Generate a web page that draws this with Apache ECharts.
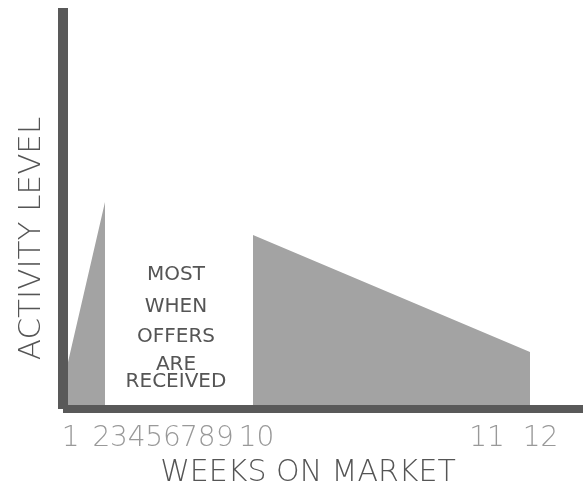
<!DOCTYPE html>
<html>
<head>
<meta charset="utf-8">
<script src="https://cdn.jsdelivr.net/npm/echarts@6/dist/echarts.min.js"></script>
<style>html,body{margin:0;padding:0;background:#fff}#c{width:588px;height:487px}</style>
</head>
<body>
<div id="c"></div>
<script>
// x positions in chart units (time axis), y in activity level (0-100)
var tickLabels = ['1','2','3','4','5','6','7','8','9','10','11','12'];
var tickPositions = [0.19,0.96,1.40,1.84,2.28,2.72,3.15,3.59,4.05,4.84,10.6,11.94];
var activityLeft = [[0, 6.3], [1.05, 51.6]];
var activityRight = [[4.75, 43.4], [11.675, 14.2]];
var offersBox = [1.05, 4.75];
var boxText = ['MOST', 'WHEN', 'OFFERS', 'ARE', 'RECEIVED'];

var data = activityLeft.concat([[2.9, '-']], activityRight);
var font = 'DejaVu Sans';
var lineHeights = [30, 34, 26, 30, 4];
var rich = {};
lineHeights.forEach(function (lh, i) {
  rich['l' + i] = {color: '#555', fontSize: 20, fontFamily: font, lineHeight: lh, align: 'center'};
});
var chart = echarts.init(document.getElementById('c'));
chart.setOption({
  animation: false,
  grid: {left: 63, right: 5, top: 8, bottom: 78, containLabel: false, outerBoundsMode: 'none'},
  xAxis: {
    type: 'value', min: 0, max: 13, z: 5,
    name: 'WEEKS ON MARKET', nameLocation: 'middle', nameGap: 47,
    nameTextStyle: {color: '#555', fontSize: 30, fontFamily: font, fontWeight: 300, padding: [0, 30, 0, 0]},
    axisLine: {show: true, lineStyle: {color: '#595959', width: 8, cap: 'butt'}},
    axisTick: {show: false},
    splitLine: {show: false},
    axisLabel: {
      customValues: tickPositions,
      color: '#999', fontSize: 28, fontFamily: font, fontWeight: 300, margin: 16,
      formatter: function (v) {
        for (var i = 0; i < tickPositions.length; i++) if (Math.abs(tickPositions[i] - v) < 1e-6) return tickLabels[i];
        return '';
      }
    }
  },
  yAxis: {
    type: 'value', min: 0, max: 100, z: 5,
    name: 'ACTIVITY LEVEL', nameLocation: 'middle', nameGap: 16,
    nameTextStyle: {color: '#555', fontSize: 31, fontFamily: font, fontWeight: 300, padding: [0, 60, 0, 0]},
    axisLine: {show: true, lineStyle: {color: '#595959', width: 10, cap: 'butt'}},
    axisTick: {show: false}, axisLabel: {show: false}, splitLine: {show: false}
  },
  series: [{
    type: 'line', data: data, symbol: 'none', connectNulls: false, z: 2,
    lineStyle: {width: 0}, areaStyle: {color: '#a3a3a3', opacity: 1},
    markArea: {
      silent: true,
      itemStyle: {color: 'rgba(255,255,255,0)'},
      label: {
        show: true, position: 'insideBottom', distance: 25, offset: [-3, 0],
        formatter: boxText.map(function (t, i) { return '{l' + i + '|' + t + '}'; }).join('\n'),
        rich: rich
      },
      data: [[{xAxis: offersBox[0]}, {xAxis: offersBox[1]}]]
    }
  }]
});
</script>
</body>
</html>
